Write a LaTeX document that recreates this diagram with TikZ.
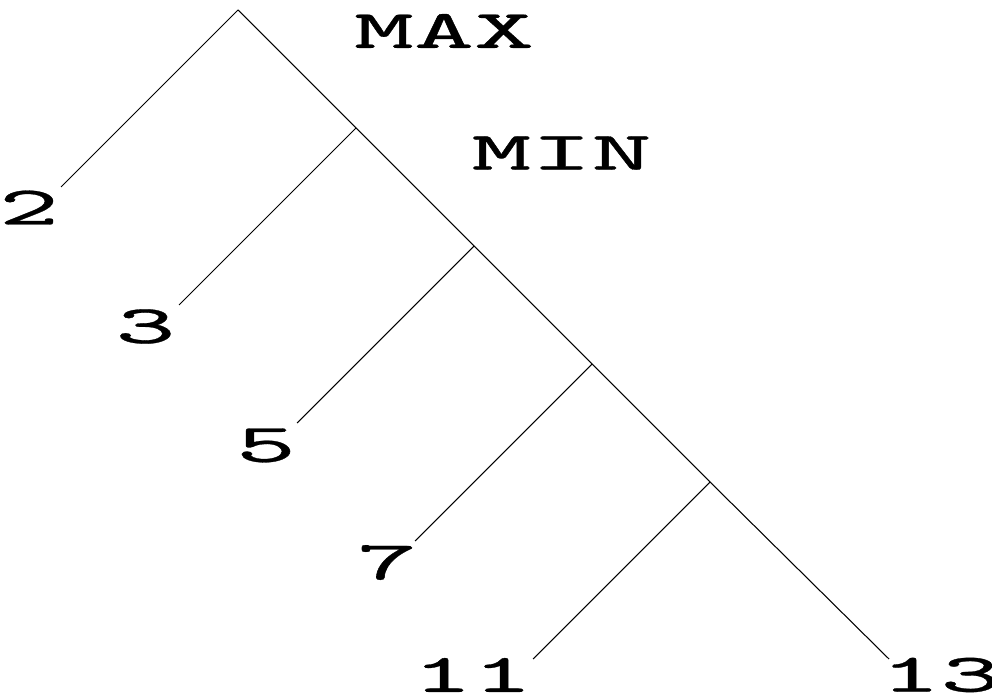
\documentclass[tikz,border=0pt]{standalone}
\usepackage{fontspec}
\usepackage{graphicx}
\newfontfamily\treefont{lmmono10-regular.otf}[FakeBold=0.5]
\tikzset{every node/.style={font=\fontsize{31}{31}\selectfont\treefont, inner sep=0pt}}
\newcommand{\wide}[1]{\scalebox{2.1}[1]{#1}}

\begin{document}
\begin{tikzpicture}[x=0.2mm, y=-0.2mm, line width=0.6pt]
      \useasboundingbox (0,0) rectangle (992,700);
      \coordinate (max) at (238,10);
      \foreach\i in {1,...,4} \coordinate (min\i) at (238+118*\i,10+118*\i);
      % free ends of the branches
      \foreach\p/\n in {max/2, min1/3, min2/5, min3/7, min4/11}
      \coordinate (e\n) at ([shift={(-177,177)}]\p);
      \coordinate (e13) at ([shift={(179,177)}]min4);
      \node (lmax) at (444,31) {\wide{MAX}};
      \node (lmin) at (561.5,153) {\wide{MIN}};
      \node (n2) at (29,207.5) {\wide{2}};
      \node (n3) at (145.5,326.5) {\wide{3}};
      \node (n5) at (266,445.5) {\wide{5}};
      \node (n7) at (387,562.5) {\wide{7}};
      \node (n11) at (472.5,675) {\wide{11}};
      \node (n13) at (940.5,675) {\wide{13}};
      \draw (max) -- (min1) -- (min2) -- (min3) -- (min4) -- (e13);
      \foreach\p/\n in {max/2, min1/3, min2/5, min3/7, min4/11}
      \draw (\p) -- (e\n);
    \end{tikzpicture}
\end{document}
